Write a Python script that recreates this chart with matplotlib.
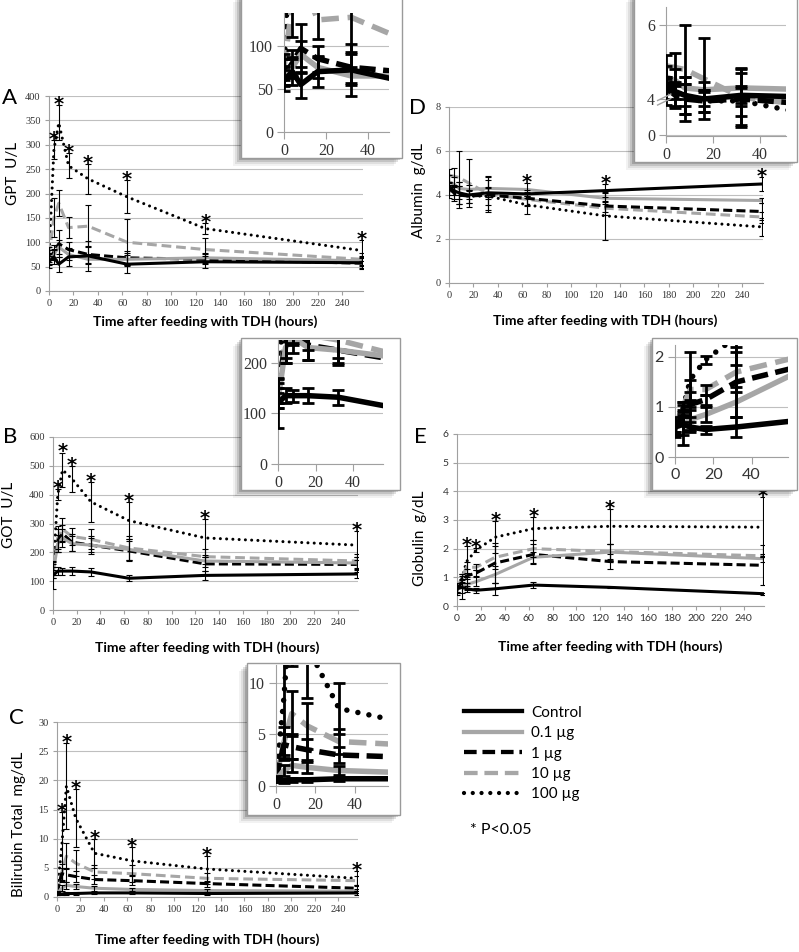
import matplotlib
matplotlib.use('Agg')
import matplotlib.pyplot as plt
from matplotlib.patches import Rectangle
from matplotlib.lines import Line2D

plt.rcParams['font.family'] = 'Liberation Serif'
plt.rcParams['lines.scale_dashes'] = False

W, H = 799, 952
SANS = 'Lato'
GRAY = '#a6a6a6'

times = [0, 4, 8, 16, 32, 64, 128, 256]
groups = ['Control', '0.1 µg', '1 µg', '10 µg', '100 µg']

# rows follow groups: Control, 0.1, 1, 10, 100 µg
gpt_mean = [[60, 70, 55, 70, 72, 55, 60, 58],
            [65, 75, 90, 75, 65, 65, 68, 62],
            [65, 80, 97, 85, 75, 68, 65, 57],
            [75, 150, 180, 130, 133, 100, 85, 65],
            [70, 290, 345, 257, 230, 193, 128, 83]]
gpt_err = [[12, 15, 15, 18, 30, 18, 12, 10],
           [10, 12, 15, 12, 10, 12, 10, 10],
           [12, 15, 28, 15, 18, 15, 10, 12],
           [15, 40, 27, 22, 43, 48, 23, 12],
           [15, 20, 36, 26, 31, 34, 12, 21]]

got_mean = [[120, 135, 135, 135, 132, 110, 120, 125],
            [125, 230, 250, 230, 225, 210, 170, 163],
            [145, 240, 265, 235, 225, 205, 160, 158],
            [140, 250, 280, 255, 245, 215, 185, 170],
            [130, 400, 486, 455, 375, 310, 250, 225]]
got_err = [[48, 15, 12, 15, 15, 10, 15, 15],
           [15, 30, 30, 25, 25, 35, 20, 20],
           [25, 40, 30, 30, 30, 35, 25, 25],
           [20, 40, 40, 30, 35, 40, 25, 25],
           [20, 20, 60, 45, 70, 65, 65, 50]]

bil_mean = [[0.6, 0.5, 0.6, 0.6, 0.7, 0.7, 0.6, 0.7],
            [0.6, 1.5, 2.0, 1.8, 1.5, 1.3, 1.1, 1.0],
            [0.7, 4.0, 3.8, 3.5, 3.0, 2.8, 2.3, 1.5],
            [0.8, 4.2, 7.0, 5.8, 4.3, 4.0, 3.2, 2.8],
            [0.7, 8.5, 19.0, 13.5, 7.5, 6.2, 4.8, 3.2]]
bil_err = [[0.2, 0.2, 0.2, 0.2, 0.2, 0.2, 0.2, 0.3],
           [0.2, 0.5, 0.6, 0.5, 0.4, 0.3, 0.3, 0.3],
           [0.2, 1.0, 1.2, 1.0, 0.8, 0.8, 0.5, 0.5],
           [0.2, 1.5, 2.2, 2.2, 1.2, 1.5, 1.0, 0.8],
           [0.2, 6.0, 7.4, 5.0, 2.5, 2.4, 2.2, 1.3]]

alb_mean = [[4.4, 4.2, 4.1, 4.0, 4.1, 4.05, 4.2, 4.5],
            [4.6, 4.5, 4.3, 4.25, 4.3, 4.25, 3.85, 3.75],
            [4.3, 4.1, 4.0, 3.95, 4.0, 3.85, 3.5, 3.25],
            [4.9, 4.85, 4.8, 4.55, 4.05, 3.8, 3.4, 3.0],
            [4.15, 4.05, 4.0, 3.95, 3.95, 3.55, 3.05, 2.55]]
alb_err = [[0.15, 0.2, 0.3, 0.2, 0.2, 0.2, 0.3, 0.33],
           [0.3, 0.3, 0.3, 0.2, 0.5, 0.3, 0.25, 0.1],
           [0.3, 0.3, 0.4, 0.3, 0.7, 0.3, 0.25, 0.4],
           [0.3, 0.4, 1.2, 1.1, 0.8, 0.3, 0.3, 0.25],
           [0.3, 0.3, 0.6, 0.3, 0.4, 0.4, 1.1, 0.4]]

glo_mean = [[0.6, 0.65, 0.6, 0.55, 0.6, 0.73, 0.65, 0.43],
            [0.6, 0.65, 0.75, 0.85, 1.1, 1.7, 1.88, 1.65],
            [0.6, 0.8, 1.05, 1.15, 1.5, 1.8, 1.55, 1.42],
            [0.6, 1.0, 1.35, 1.35, 1.7, 2.0, 1.9, 1.75],
            [0.55, 0.95, 1.55, 1.95, 2.4, 2.7, 2.78, 2.75]]
glo_err = [[0.2, 0.4, 0.1, 0.08, 0.2, 0.1, 0.03, 0.03],
           [0.15, 0.2, 0.2, 0.15, 0.3, 0.2, 0.3, 0.1],
           [0.1, 0.15, 0.25, 0.1, 0.7, 0.35, 0.25, 0.7],
           [0.1, 0.1, 0.2, 0.1, 0.4, 0.3, 0.25, 0.05],
           [0.1, 0.15, 0.55, 0.08, 0.55, 0.4, 0.6, 1.05]]

# time indices marked with * (P<0.05)
gpt_sig = [1, 2, 3, 4, 5, 6, 7]
got_sig = [1, 2, 3, 4, 5, 6, 7]
bil_sig = [1, 2, 3, 4, 5, 6, 7]
alb_sig = [5, 6, 7]
glo_sig = [2, 3, 4, 5, 6, 7]

fig = plt.figure(figsize=(W / 100, H / 100), dpi=100)


def px_axes(l, t, r, b, **kw):
    return fig.add_axes([l / W, 1 - b / H, (r - l) / W, (b - t) / H], **kw)


def line_kw(i, k):
    color = ['black', GRAY, 'black', GRAY, 'black'][i]
    ls = ['-', '-', (0, (6.5 * k, 3 * k)), (0, (7 * k, 3.5 * k)), (0, (0.01, 4.5 * k))][i]
    return dict(color=color, ls=ls, lw=2.2 * k,
                dash_capstyle='round' if i == 4 else 'butt')


def draw_series(ax, mean, err, k, ew, cap):
    for i in [4, 3, 2, 1, 0]:
        ax.plot(times, mean[i], zorder=2, **line_kw(i, k))
        ax.errorbar(times, mean[i], yerr=err[i], fmt='none', ecolor='black',
                    elinewidth=ew, capsize=cap, capthick=ew, zorder=3)


def style_axes(ax, tickfont, size, tlen):
    ax.grid(axis='y', color='#bfbfbf', lw=0.8)
    ax.set_axisbelow(True)
    for s in ['top', 'right']:
        ax.spines[s].set_visible(False)
    for s in ['left', 'bottom']:
        ax.spines[s].set_color('#a0a0a0')
    ax.tick_params(length=tlen, color='#a0a0a0', labelsize=size,
                   labelcolor='#333333', pad=3)
    for lbl in ax.get_xticklabels() + ax.get_yticklabels():
        lbl.set_family(tickfont)


def main_panel(box, mean, err, sig, ymax, ystep, tickfont):
    ax = px_axes(*box)
    draw_series(ax, mean, err, 1.0, 0.8, 2)
    ax.set_xlim(0, 257)
    ax.set_ylim(0, ymax)
    ax.set_xticks(range(0, 241, 20))
    ax.set_yticks(range(0, ymax + 1, ystep))
    style_axes(ax, tickfont, 7.5, 3)
    for j in sig:
        top = max(mean[i][j] + err[i][j] for i in range(5))
        ax.annotate('*', (times[j], top), xytext=(0, -3.5), textcoords='offset points',
                    ha='center', va='baseline', fontsize=14, weight='bold',
                    family='DejaVu Sans', annotation_clip=False)
    return ax


def inset(box, axbox, mean, err, xmax, ylim, yticks, ylabels, tickfont):
    l, t, r, b = box
    for d, a in [(8, 0.05), (6, 0.08), (4, 0.12), (2, 0.16)]:
        fig.add_artist(Rectangle(((l - d) / W, 1 - (b + d) / H), (r - l) / W, (b - t) / H,
                                 transform=fig.transFigure, fc='black', ec='none',
                                 alpha=a, zorder=1))
    fig.add_artist(Rectangle((l / W, 1 - b / H), (r - l) / W, (b - t) / H,
                             transform=fig.transFigure, fc='white', ec='#9a9a9a',
                             lw=1.0, zorder=1.1))
    ax = px_axes(*axbox, zorder=2)
    ax.patch.set_visible(False)
    draw_series(ax, mean, err, 1.8, 2.0, 4.5)
    ax.set_xlim(0, xmax)
    ax.set_ylim(*ylim)
    ax.set_xticks([0, 20, 40])
    ax.set_yticks(yticks)
    ax.set_yticklabels(ylabels)
    style_axes(ax, tickfont, 11.5, 5)
    return ax


# main panels
main_panel((49, 96, 363, 291), gpt_mean, gpt_err, gpt_sig, 400, 50, 'Liberation Serif')
main_panel((53, 437, 358, 610), got_mean, got_err, got_sig, 600, 100, 'Liberation Serif')
main_panel((57, 722, 358, 897), bil_mean, bil_err, bil_sig, 30, 5, 'Liberation Serif')
main_panel((449, 107, 763, 283), alb_mean, alb_err, alb_sig, 8, 2, 'Liberation Serif')
main_panel((457, 434, 764, 606), glo_mean, glo_err, glo_sig, 6, 1, SANS)

# insets (first 48 h)
inset((241, -6, 402, 158), (284, 13, 389, 132), gpt_mean, gpt_err, 50, (0, 138),
      [0, 50, 100], ['0', '50', '100'], 'Liberation Serif')
inset((241, 338, 400, 490), (278, 340, 383, 464), got_mean, got_err, 56, (0, 245),
      [0, 100, 200], ['0', '100', '200'], 'Liberation Serif')
inset((247, 663, 400, 815), (276, 665, 388, 786), bil_mean, bil_err, 57, (0, 11.7),
      [0, 5, 10], ['0', '5', '10'], 'Liberation Serif')
axd = inset((634, -6, 797, 162), (666, 7, 786, 136), alb_mean, alb_err, 51, (3.0, 6.49),
            [3.03, 4, 6], ['0', '4', '6'], 'Liberation Serif')
inset((652, 338, 797, 490), (675, 345, 788, 457), glo_mean, glo_err, 59, (0, 2.24),
      [0, 1, 2], ['0', '1', '2'], SANS)

# axis break marks on the albumin inset
for dy in [0.0, 0.035]:
    axd.plot([-0.07, 0.04], [0.24 + dy, 0.29 + dy], transform=axd.transAxes,
             color='#a0a0a0', lw=1.0, clip_on=False, zorder=4)

# labels
xlab = 'Time after feeding with TDH (hours)'
for x, y in [(205, 322), (207, 648), (207, 940), (605, 321), (610, 647)]:
    fig.text(x / W, 1 - y / H, xlab, family=SANS, weight='bold', size=10,
             ha='center', va='center')

for x, y, s in [(13, 173, 'GPT  U/L'), (9, 515, 'GOT  U/L'),
                (19, 824, 'Bilirubin Total  mg/dL'), (419, 190, 'Albumin  g/dL'),
                (420, 538, 'Globulin  g/dL')]:
    fig.text(x / W, 1 - y / H, s, family=SANS, size=11, rotation=90,
             ha='center', va='center')

for x, y, s in [(10, 98, 'A'), (10, 437, 'B'), (16, 718, 'C'), (417, 108, 'D'), (420, 437, 'E')]:
    fig.text(x / W, 1 - y / H, s, family=SANS, size=16, ha='center', va='center')

# legend
handles = [Line2D([], [], **line_kw(i, 1.4)) for i in range(5)]
fig.legend(handles, groups, loc='upper left', bbox_to_anchor=(450 / W, 1 - 692 / H),
           frameon=False, prop={'family': SANS, 'size': 11}, handlelength=3.8,
           handletextpad=0.6, labelspacing=0.42)
fig.text(470 / W, 1 - 830 / H, '* P<0.05', family=SANS, size=11.5, va='center')

fig.savefig('out.png', dpi=100)
